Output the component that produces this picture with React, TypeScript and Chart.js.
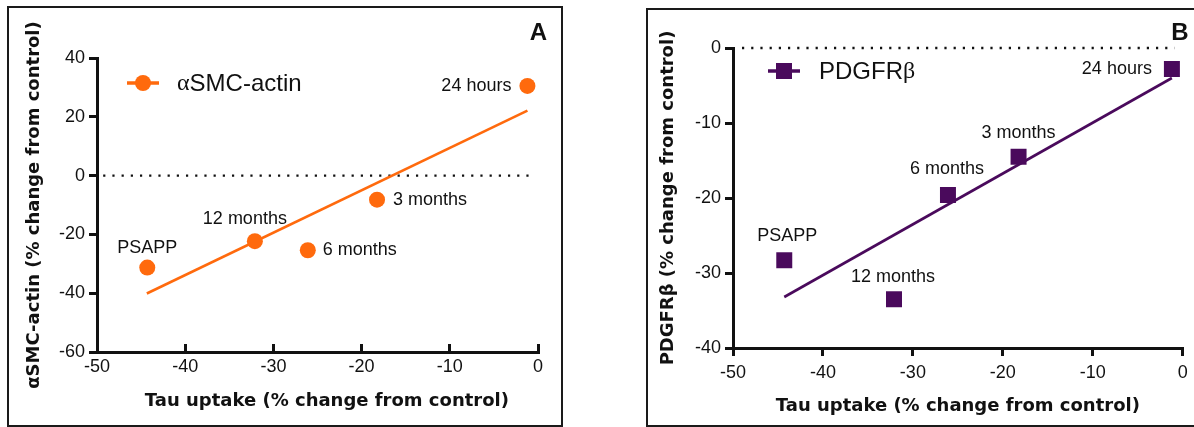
import React, { useEffect, useRef } from 'react';
import { Chart, registerables } from 'chart.js';

Chart.register(...registerables);

// ---------- data ----------
const timepoints = ['PSAPP', '12 months', '6 months', '3 months', '24 hours'];
const tauUptake = [-44.3, -32.1, -26.1, -18.25, -1.2];
const smcActinChange = [-31.3, -22.3, -25.4, -8.2, 30.5];
const pdgfrbChange = [-28.3, -33.5, -19.6, -14.5, -2.8];

const smcFitX = [-44.35, -1.2];
const smcFitY = [-40.1, 22.1];
const pdgfrbFitX = [-44.3, -1.2];
const pdgfrbFitY = [-33.2, -4.0];

const zeroLineXA = [-49.3, -0.7];
const zeroLineXB = [-49.0, -0.9];

const xTickValues = [-50, -40, -30, -20, -10, 0];
const smcTickValues = [-60, -40, -20, 0, 20, 40];
const pdgfrbTickValues = [-40, -30, -20, -10, 0];

const xTitle = 'Tau uptake (% change from control)';
const smcTitle = 'αSMC-actin (% change from control)';
const pdgfrbTitle = 'PDGFRβ (% change from control)';

// ---------- styles ----------
const ORANGE = '#FF6A0D';
const PURPLE = '#4A0A5C';
const INK = '#111111';
const SANS = "'Liberation Sans', Arial, Helvetica, sans-serif";
const TITLE_SANS = "'DejaVu Sans', 'Liberation Sans', Arial, sans-serif";
const SERIF = "'Liberation Serif', 'Times New Roman', serif";

const placementA = [
  { align: 'center', dx: 0, dy: -20 },
  { align: 'center', dx: -10, dy: -22 },
  { align: 'left', dx: 15, dy: 0 },
  { align: 'left', dx: 16, dy: 0 },
  { align: 'right', dx: -16, dy: 0 },
];
const placementB = [
  { align: 'center', dx: 3, dy: -24 },
  { align: 'center', dx: -1, dy: -22 },
  { align: 'center', dx: -1, dy: -26 },
  { align: 'center', dx: 0, dy: -24 },
  { align: 'right', dx: -20, dy: 0 },
];

const pointLabelsPlugin = {
  id: 'pointLabels',
  afterDatasetsDraw(chart: any, _args: any, o: any) {
    const meta = chart.getDatasetMeta(o.datasetIndex);
    const ctx = chart.ctx;
    ctx.save();
    ctx.font = `18px ${SANS}`;
    ctx.fillStyle = INK;
    ctx.textBaseline = 'middle';
    meta.data.forEach((el: any, i: number) => {
      const p = o.placement[i];
      ctx.textAlign = p.align;
      ctx.fillText(o.labels[i], el.x + p.dx, el.y + p.dy);
    });
    ctx.restore();
  },
};

const panelDecorPlugin = {
  id: 'panelDecor',
  afterDraw(chart: any, _args: any, o: any) {
    const ctx = chart.ctx;
    ctx.save();
    // legend
    ctx.strokeStyle = o.color;
    ctx.lineWidth = 3.5;
    ctx.beginPath();
    ctx.moveTo(o.lx0, o.ly);
    ctx.lineTo(o.lx1, o.ly);
    ctx.stroke();
    const mx = (o.lx0 + o.lx1) / 2;
    ctx.fillStyle = o.color;
    if (o.marker === 'circle') {
      ctx.beginPath();
      ctx.arc(mx, o.ly, 8, 0, Math.PI * 2);
      ctx.fill();
    } else {
      ctx.fillRect(mx - 8, o.ly - 8, 16, 16);
    }
    ctx.fillStyle = INK;
    ctx.textBaseline = 'middle';
    ctx.textAlign = 'left';
    let x = o.tx;
    for (const seg of o.segments) {
      ctx.font = `24px ${seg.serif ? SERIF : SANS}`;
      ctx.fillText(seg.text, x, o.ly + 1);
      x += ctx.measureText(seg.text).width;
    }
    // panel letter
    ctx.font = `bold 24px ${SANS}`;
    ctx.textAlign = 'center';
    ctx.fillText(o.letter, o.letterX, o.letterY);
    ctx.restore();
  },
};

function makeConfig(p: any) {
  const tickFont = { family: SANS, size: 18 };
  const titleFont = { family: TITLE_SANS, size: 18, weight: 'bold' as const };
  return {
    type: 'scatter',
    data: {
      datasets: [
        {
          label: p.seriesName,
          data: tauUptake.map((x, i) => ({ x, y: p.values[i] })),
          pointStyle: p.marker === 'circle' ? 'circle' : 'rect',
          pointRadius: p.marker === 'circle' ? 8 : 11.3,
          pointHoverRadius: p.marker === 'circle' ? 8 : 11.3,
          backgroundColor: p.color,
          borderColor: p.color,
          pointBorderWidth: 0,
          clip: false,
        },
        {
          label: 'fit',
          data: p.fitX.map((x: number, i: number) => ({ x, y: p.fitY[i] })),
          showLine: true,
          borderColor: p.color,
          borderWidth: 2.6,
          pointRadius: 0,
          clip: false,
        },
        {
          label: 'zero',
          data: p.zeroX.map((x: number) => ({ x, y: 0 })),
          showLine: true,
          borderColor: INK,
          borderWidth: 2.4,
          borderDash: [2.2, 7],
          pointRadius: 0,
          clip: false,
        },
      ],
    },
    options: {
      responsive: false,
      animation: false,
      events: [],
      layout: { padding: p.padding },
      plugins: {
        legend: { display: false },
        tooltip: { enabled: false },
        pointLabels: { datasetIndex: 0, labels: timepoints, placement: p.placement },
        panelDecor: p.decor,
      },
      scales: {
        x: {
          type: 'linear',
          min: xTickValues[0],
          max: xTickValues[xTickValues.length - 1],
          ticks: { stepSize: xTickValues[1] - xTickValues[0], font: tickFont, color: INK, padding: p.xTickPad },
          grid: { drawOnChartArea: false, tickLength: p.xTickLen, lineWidth: 3, color: INK },
          border: { display: true, color: INK, width: 3 },
          title: { display: true, text: p.xTitleText, font: titleFont, color: INK, padding: { top: 0, bottom: p.xTitlePad } },
          afterFit: (s: any) => { s.height = p.xHeight; },
        },
        y: {
          type: 'linear',
          min: p.yTicks[0],
          max: p.yTicks[p.yTicks.length - 1],
          ticks: { stepSize: p.yTicks[1] - p.yTicks[0], font: tickFont, color: INK, padding: 4 },
          grid: { drawOnChartArea: false, tickLength: 8, lineWidth: 3, color: INK },
          border: { display: true, color: INK, width: 3 },
          title: { display: true, text: p.yTitle, font: titleFont, color: INK, padding: { top: p.yTitlePad, bottom: 0 } },
          afterFit: (s: any) => { s.width = p.yWidth; },
        },
      },
    },
    plugins: [pointLabelsPlugin, panelDecorPlugin],
  };
}

function Panel({ left, width, cfg }: { left: number; width: number; cfg: any }) {
  const ref = useRef<HTMLCanvasElement>(null);
  useEffect(() => {
    if (!ref.current) return;
    const chart = new Chart(ref.current, makeConfig(cfg) as any);
    return () => chart.destroy();
  }, []);
  return (
    <canvas
      ref={ref}
      width={width}
      height={427}
      style={{ position: 'absolute', left, top: 0, width, height: 427 }}
    />
  );
}

const cfgA = {
  seriesName: 'αSMC-actin',
  values: smcActinChange,
  color: ORANGE,
  marker: 'circle',
  fitX: smcFitX,
  fitY: smcFitY,
  zeroX: zeroLineXA,
  yTicks: smcTickValues,
  yTitle: smcTitle,
  xTitleText: '   ' + xTitle,
  padding: { left: 0, top: 58, right: 62, bottom: 0 },
  yWidth: 97,
  xHeight: 75,
  xTickLen: -8,
  xTickPad: 12,
  xTitlePad: 15,
  yTitlePad: 24,
  placement: placementA,
  decor: {
    color: ORANGE, marker: 'circle', lx0: 127, lx1: 159, ly: 83, tx: 177,
    segments: [{ text: 'α', serif: true }, { text: 'SMC-actin', serif: false }],
    letter: 'A', letterX: 538.5, letterY: 33,
  },
};

const cfgB = {
  seriesName: 'PDGFRβ',
  values: pdgfrbChange,
  color: PURPLE,
  marker: 'rect',
  fitX: pdgfrbFitX,
  fitY: pdgfrbFitY,
  zeroX: zeroLineXB,
  yTicks: pdgfrbTickValues,
  yTitle: pdgfrbTitle,
  xTitleText: xTitle,
  padding: { left: 0, top: 48, right: 9, bottom: 0 },
  yWidth: 133,
  xHeight: 79,
  xTickLen: 8,
  xTickPad: 6,
  xTitlePad: 10,
  yTitlePad: 58,
  placement: placementB,
  decor: {
    color: PURPLE, marker: 'rect', lx0: 168, lx1: 200, ly: 71, tx: 219,
    segments: [{ text: 'PDGFR', serif: false }, { text: 'β', serif: true }],
    letter: 'B', letterX: 580, letterY: 33,
  },
};

export default function App() {
  return (
    <div
      style={{
        position: 'fixed', left: 0, top: 0, width: 1194, height: 427,
        overflow: 'hidden', background: '#ffffff',
      }}
    >
      <div style={{ position: 'absolute', left: 7, top: 6, width: 556, height: 421, border: '2px solid #1a1a1a', boxSizing: 'border-box' }} />
      <div style={{ position: 'absolute', left: 646, top: 8, width: 600, height: 419, border: '2px solid #1a1a1a', boxSizing: 'border-box' }} />
      <Panel left={0} width={600} cfg={cfgA} />
      <Panel left={600} width={594} cfg={cfgB} />
    </div>
  );
}
